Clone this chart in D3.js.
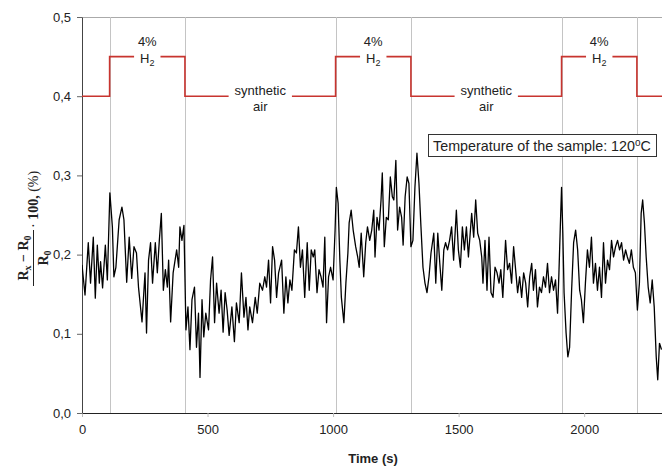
<!DOCTYPE html>
<html>
<head>
<meta charset="utf-8">
<script src="https://cdn.jsdelivr.net/npm/d3@7/dist/d3.min.js"></script>
<style>
  body { margin: 0; background: #fff; }
  svg { display: block; font-family: "Liberation Sans", Arial, sans-serif; }
</style>
</head>
<body>
<div id="chart"></div>
<script>
// time (s) of each reading
var times = [0, 12, 25, 34, 45, 53, 61, 69, 74, 82, 93, 101, 111, 121, 127, 135, 148, 159, 167, 178,
  188, 198, 207, 217, 225, 239, 251, 257, 265, 273, 281, 292, 300, 308, 316, 324, 332, 340, 345, 353,
  363, 377, 385, 390, 398, 406, 414, 422, 430, 438, 448, 456, 464, 470, 478, 485, 493, 504, 512, 520,
  528, 536, 546, 554, 562, 570, 578, 586, 597, 607, 615, 626, 635, 645, 653, 661, 668, 679, 690, 698,
  708, 719, 728, 735, 743, 751, 759, 767, 775, 783, 795, 804, 812, 820, 828, 836, 846, 854, 862, 870,
  878, 887, 897, 905, 913, 921, 927, 936, 944, 952, 960, 967, 974, 982, 990, 1000, 1008, 1013, 1020, 1027,
  1033, 1043, 1051, 1059, 1064, 1072, 1080, 1090, 1098, 1104, 1112, 1122, 1130, 1137, 1146, 1154, 1162, 1167, 1175, 1183,
  1191, 1196, 1204, 1212, 1220, 1228, 1236, 1242, 1250, 1257, 1265, 1273, 1279, 1287, 1295, 1302, 1310, 1318, 1326, 1334,
  1342, 1350, 1358, 1366, 1374, 1382, 1390, 1401, 1409, 1417, 1425, 1433, 1441, 1448, 1456, 1464, 1472, 1480, 1491, 1499,
  1507, 1515, 1523, 1531, 1539, 1552, 1560, 1568, 1576, 1584, 1592, 1597, 1605, 1613, 1621, 1629, 1637, 1645, 1653, 1661,
  1668, 1676, 1687, 1695, 1703, 1711, 1719, 1727, 1735, 1743, 1751, 1759, 1767, 1775, 1783, 1791, 1798, 1806, 1814, 1822,
  1830, 1838, 1846, 1854, 1862, 1870, 1878, 1886, 1894, 1899, 1905, 1910, 1915, 1920, 1928, 1935, 1942, 1950, 1958, 1966,
  1974, 1982, 1989, 1997, 2005, 2013, 2021, 2029, 2037, 2045, 2053, 2061, 2069, 2077, 2085, 2093, 2101, 2109, 2117, 2125,
  2133, 2141, 2149, 2157, 2165, 2172, 2180, 2188, 2196, 2204, 2212, 2220, 2227, 2233, 2240, 2247, 2255, 2263, 2271, 2279,
  2287, 2293, 2300, 2308];

// (Rx - R0)/R0 * 100, %
var values = [0.187, 0.149, 0.215, 0.164, 0.222, 0.145, 0.212, 0.164, 0.191, 0.158, 0.212, 0.168, 0.278, 0.235, 0.172, 0.184, 0.244, 0.260, 0.244, 0.165,
  0.222, 0.170, 0.210, 0.202, 0.159, 0.115, 0.177, 0.101, 0.193, 0.215, 0.164, 0.215, 0.177, 0.218, 0.252, 0.155, 0.181, 0.159, 0.193, 0.115,
  0.177, 0.206, 0.184, 0.235, 0.218, 0.237, 0.105, 0.134, 0.080, 0.143, 0.159, 0.083, 0.126, 0.045, 0.143, 0.096, 0.126, 0.105, 0.168, 0.197,
  0.114, 0.164, 0.126, 0.155, 0.102, 0.152, 0.130, 0.098, 0.134, 0.090, 0.139, 0.114, 0.177, 0.121, 0.146, 0.105, 0.134, 0.114, 0.146, 0.126,
  0.164, 0.155, 0.172, 0.159, 0.193, 0.139, 0.210, 0.193, 0.146, 0.177, 0.193, 0.126, 0.172, 0.139, 0.168, 0.155, 0.206, 0.202, 0.235, 0.184,
  0.206, 0.146, 0.215, 0.155, 0.206, 0.197, 0.206, 0.152, 0.181, 0.172, 0.159, 0.222, 0.114, 0.172, 0.184, 0.168, 0.231, 0.285, 0.265, 0.193,
  0.146, 0.114, 0.164, 0.202, 0.240, 0.256, 0.231, 0.210, 0.197, 0.184, 0.227, 0.172, 0.215, 0.235, 0.218, 0.231, 0.256, 0.197, 0.247, 0.231,
  0.269, 0.303, 0.210, 0.247, 0.244, 0.298, 0.273, 0.269, 0.319, 0.231, 0.260, 0.247, 0.212, 0.273, 0.298, 0.290, 0.210, 0.218, 0.285, 0.328,
  0.290, 0.235, 0.184, 0.164, 0.152, 0.172, 0.202, 0.227, 0.164, 0.227, 0.189, 0.155, 0.206, 0.215, 0.206, 0.218, 0.235, 0.193, 0.256, 0.206,
  0.184, 0.235, 0.206, 0.235, 0.197, 0.252, 0.222, 0.269, 0.227, 0.218, 0.197, 0.164, 0.218, 0.155, 0.222, 0.152, 0.146, 0.184, 0.177, 0.164,
  0.181, 0.146, 0.218, 0.181, 0.189, 0.164, 0.210, 0.181, 0.152, 0.172, 0.146, 0.177, 0.164, 0.134, 0.172, 0.189, 0.155, 0.181, 0.134, 0.159,
  0.152, 0.172, 0.159, 0.189, 0.152, 0.172, 0.155, 0.168, 0.126, 0.172, 0.235, 0.285, 0.227, 0.152, 0.101, 0.071, 0.083, 0.155, 0.215, 0.231,
  0.206, 0.155, 0.143, 0.114, 0.164, 0.206, 0.184, 0.222, 0.164, 0.189, 0.155, 0.184, 0.146, 0.215, 0.164, 0.193, 0.181, 0.218, 0.197, 0.210,
  0.218, 0.206, 0.215, 0.193, 0.206, 0.197, 0.189, 0.206, 0.184, 0.177, 0.130, 0.164, 0.252, 0.269, 0.240, 0.197, 0.159, 0.139, 0.168, 0.134,
  0.071, 0.042, 0.088, 0.080];

// gas switching (step trace, upper part of plot)
var gasTimes = [0, 110, 410, 1010, 1310, 1910, 2210, 2310];
var gasLevels = [0.40, 0.45, 0.40, 0.45, 0.40, 0.45, 0.40, 0.40];
var gasNames = ["", "h2", "air", "h2", "air", "h2", ""];
var switchTimes = [110, 410, 1010, 1310, 1910, 2210];

var xTicks = [0, 500, 1000, 1500, 2000];
var yTicks = [0, 0.1, 0.2, 0.3, 0.4, 0.5];

var margin = { top: 17, right: 0, bottom: 53, left: 82 },
  width = 662 - margin.left - margin.right,
  height = 466 - margin.top - margin.bottom;

var x = d3.scaleLinear().domain([0, 2310]).range([0, width]);
var y = d3.scaleLinear().domain([0, 0.5]).range([height, 0]);

var fmt = function(d) { return d3.format(".1f")(d).replace(".", ","); };

var svg = d3.select("#chart").append("svg")
  .attr("width", 662)
  .attr("height", 466)
  .append("g")
  .attr("transform", "translate(" + margin.left + "," + margin.top + ")");

svg.append("defs").append("clipPath").attr("id", "clip")
  .append("rect").attr("width", width).attr("height", height);

// top border
svg.append("line")
  .attr("x1", 0).attr("x2", width).attr("y1", 0.5).attr("y2", 0.5)
  .attr("stroke", "#aaa").attr("stroke-width", 1);

// vertical lines where gas is switched
svg.selectAll(".switch")
  .data(switchTimes)
  .enter().append("line").attr("class", "switch")
  .attr("x1", function(d) { return Math.round(x(d)) + 0.5; })
  .attr("x2", function(d) { return Math.round(x(d)) + 0.5; })
  .attr("y1", 0).attr("y2", height)
  .attr("stroke", "#c4c4c4").attr("stroke-width", 1);

// axes
var xAxis = d3.axisBottom(x).tickValues(xTicks).tickFormat(d3.format("d"))
  .tickSizeInner(4).tickSizeOuter(0).tickPadding(8);
var yAxis = d3.axisLeft(y).tickValues(yTicks).tickFormat(fmt)
  .tickSizeInner(5).tickSizeOuter(0).tickPadding(6);

var gx = svg.append("g")
  .attr("transform", "translate(0," + height + ")")
  .call(xAxis);
gx.select(".domain").attr("stroke", "#222");
gx.selectAll(".tick line").attr("stroke", "#bbb");
gx.selectAll(".tick text").attr("font-size", 13).attr("fill", "#222")
  .attr("font-family", "'Liberation Sans', Arial, sans-serif");

var gy = svg.append("g").call(yAxis);
gy.select(".domain").attr("stroke", "#444");
gy.selectAll(".tick line").attr("stroke", "#666");
gy.selectAll(".tick text").attr("font-size", 13).attr("fill", "#222")
  .attr("font-family", "'Liberation Sans', Arial, sans-serif");

// red gas trace
var step = d3.line()
  .x(function(d) { return x(d[0]); })
  .y(function(d) { return y(d[1]); })
  .curve(d3.curveStepAfter);

svg.append("path")
  .datum(d3.zip(gasTimes, gasLevels))
  .attr("d", step)
  .attr("fill", "none")
  .attr("stroke", "#c8342f")
  .attr("stroke-width", 1.6);

// gas labels, with white background to break the red line
for (var i = 1; i < gasNames.length; i++) {
  if (!gasNames[i]) continue;
  var mid = (gasTimes[i] + gasTimes[i + 1]) / 2;
  var lvl = gasLevels[i];
  var g = svg.append("g").attr("transform", "translate(" + x(mid) + "," + y(lvl) + ")");
  var bg = g.append("rect").attr("fill", "#fff");
  var t = g.append("text")
    .attr("text-anchor", "middle")
    .attr("font-size", 13)
    .attr("fill", "#222");
  if (gasNames[i] == "h2") {
    t.append("tspan").attr("x", 0).attr("y", -11).text("4%");
    t.append("tspan").attr("x", 0).attr("y", 6).text("H");
    t.append("tspan").attr("dy", 3).attr("font-size", 9).text("2");
  } else {
    t.append("tspan").attr("x", 0).attr("y", -1).text("synthetic");
    t.append("tspan").attr("x", 0).attr("y", 15).text("air");
  }
  // gap only as wide as the line of text lying on the trace
  var line = gasNames[i] == "h2" ? t.selectAll("tspan").filter(function(d, j) { return j > 0; }) : t.select("tspan");
  var w = 0;
  line.each(function() { w += this.getComputedTextLength(); });
  bg.attr("x", -w / 2 - 6).attr("width", w + 12).attr("y", -4).attr("height", 8);
}

// measured signal
var trace = d3.line()
  .x(function(d) { return x(d[0]); })
  .y(function(d) { return y(d[1]); });

svg.append("path")
  .datum(d3.zip(times, values))
  .attr("clip-path", "url(#clip)")
  .attr("d", trace)
  .attr("fill", "none")
  .attr("stroke", "#000")
  .attr("stroke-width", 1.3)
  .attr("stroke-linejoin", "round");

// temperature note
var note = svg.append("g").attr("transform", "translate(" + (428 - margin.left) + "," + (134 - margin.top) + ")");
note.append("rect")
  .attr("x", 0.5).attr("y", 0.5)
  .attr("width", 228).attr("height", 22)
  .attr("fill", "#fff").attr("stroke", "#333");
var nt = note.append("text")
  .attr("x", 114).attr("y", 16.5)
  .attr("text-anchor", "middle")
  .attr("font-size", 14.3)
  .attr("fill", "#222");
nt.append("tspan").text("Temperature of the sample: 120");
nt.append("tspan").attr("dy", -5).attr("font-size", 10).text("o");
nt.append("tspan").attr("dy", 5).text("C");

// x axis title
svg.append("text")
  .attr("x", width / 2 + 1)
  .attr("y", height + 50)
  .attr("text-anchor", "middle")
  .attr("font-size", 13)
  .attr("font-weight", "bold")
  .attr("fill", "#222")
  .text("Time (s)");

// y axis title: fraction (Rx - R0)/R0 . 100, (%)
var yl = d3.select("svg").append("g")
  .attr("transform", "translate(33,222) rotate(-90)")
  .attr("font-family", "'Liberation Serif', 'DejaVu Serif', serif")
  .attr("font-size", 14)
  .attr("fill", "#222");

var num = yl.append("text").attr("x", -36).attr("y", -5).attr("text-anchor", "middle").attr("font-weight", "bold");
num.append("tspan").text("R");
num.append("tspan").attr("dy", 3).attr("font-size", 10).text("x");
num.append("tspan").attr("dy", -3).text(" \u2212 R");
num.append("tspan").attr("dy", 3).attr("font-size", 10).text("0");

yl.append("line")
  .attr("x1", -64).attr("x2", -8).attr("y1", 0.5).attr("y2", 0.5)
  .attr("stroke", "#222").attr("stroke-width", 1);

var den = yl.append("text").attr("x", -36).attr("y", 15).attr("text-anchor", "middle").attr("font-weight", "bold");
den.append("tspan").text("R");
den.append("tspan").attr("dy", 3).attr("font-size", 10).text("0");

var rest = yl.append("text").attr("x", -6).attr("y", 5);
rest.append("tspan").text("\u00b7 ");
rest.append("tspan").attr("font-weight", "bold").text("100,");
rest.append("tspan").text(" (%)");
</script>
</body>
</html>
